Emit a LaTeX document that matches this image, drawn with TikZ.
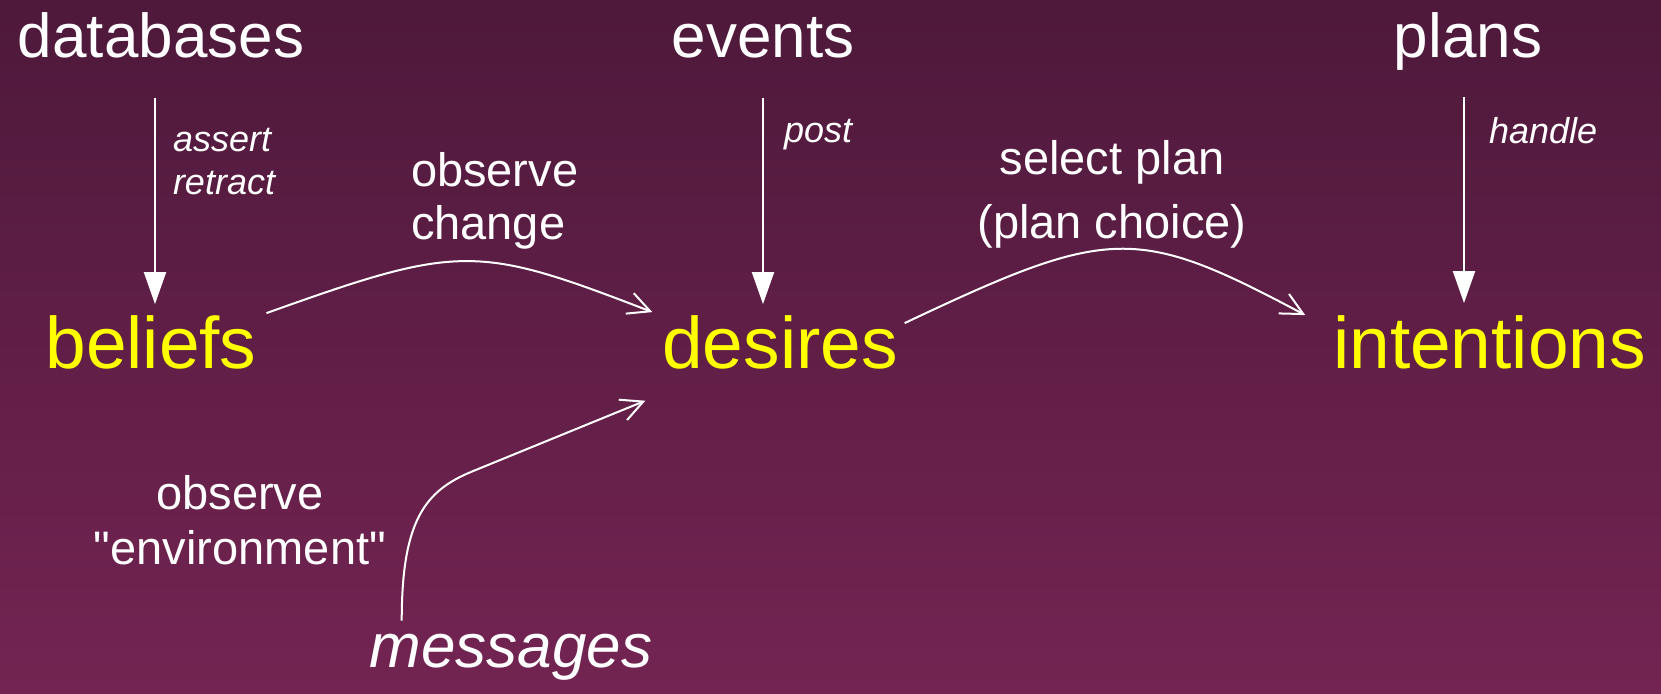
\documentclass[tikz,border=0pt]{standalone}
\usepackage{fontspec}
\setmainfont{Liberation Sans}
\usetikzlibrary{arrows.meta}
\definecolor{bgtop}{RGB}{78,25,59}
\definecolor{bgbot}{RGB}{115,36,82}
\definecolor{conceptcol}{RGB}{255,255,0}
\begin{document}
\begin{tikzpicture}[x=1pt,y=-1pt,
  every node/.style={inner sep=0pt, outer sep=0pt, text=white},
  source/.style={anchor=base, font=\fontsize{62}{74}\selectfont},
  concept/.style={anchor=base, text=conceptcol, font=\fontsize{73}{88}\selectfont},
  act/.style={font=\fontsize{36}{43}\selectfont\itshape},
  caption/.style={font=\fontsize{47}{53}\selectfont},
  down/.style={draw=white, line width=2pt, -{Triangle[length=32pt,width=22pt]}},
  flow/.style={draw=white, line width=2pt, -{Straight Barb[length=22pt,width=22pt]}}]

% background
\useasboundingbox (0,0) rectangle (1661,693);
\shade[top color=bgtop, bottom color=bgbot] (0,0) rectangle (1661,693);

% sources
\node[source] (databases) at (161,57) {databases};
\node[source] (events) at (763,57) {events};
\node[source] (plans) at (1468,57) {plans};
\node[source, font=\fontsize{62}{74}\selectfont\itshape] (messages) at (511,667) {messages};

% mental attitudes
\node[concept] (beliefs) at (151,368) {beliefs};
\node[concept] (desires) at (780,368) {desires};
\node[concept] (intentions) at (1489.5,368) {intentions};

% labels
\node[act, anchor=north west, align=left] (assert) at (173,128) {assert\\retract};
\node[act, anchor=base west] (post) at (784,142) {post};
\node[act, anchor=base west] (handle) at (1489,143) {handle};
\node[caption, anchor=north west, align=left] (change) at (411,152) {observe\\change};
\node[caption, anchor=north, align=center, font=\fontsize{47}{64}\selectfont] (choice) at (1112,140) {select plan\\(plan choice)};
\node[caption, anchor=north, align=center, font=\fontsize{47}{55}\selectfont] (environment) at (240,475) {observe\\\textquotedbl environment\textquotedbl};

% vertical feeds
\draw[down] ([xshift=-6pt,yshift=-40pt]databases.south) -- ([xshift=4pt,yshift=11pt]beliefs.north);
\draw[down] ([yshift=-40pt]events.south) -- ([xshift=-17pt,yshift=11pt]desires.north);
\draw[down] ([xshift=-4pt,yshift=-27pt]plans.south) -- ([xshift=-25.5pt,yshift=12pt]intentions.north);

% curved flows
\draw[flow] ([xshift=10pt,yshift=2pt]beliefs.north east)
  .. controls +(193,-69) and +(-176,-68) .. ([xshift=-10pt,yshift=3pt]desires.north west);
\draw[flow] ([xshift=7pt,yshift=-8pt]desires.north east)
  .. controls +(205,-97) and +(-169,-90) .. ([xshift=-28pt]intentions.north west);
\draw[flow] ([xshift=32pt,yshift=13pt]messages.north west)
  .. controls +(0,-101) and +(-46,19) .. ([xshift=102pt,yshift=162pt]messages.north west)
  -- ([xshift=-17pt,yshift=-32pt]desires.south west);
\end{tikzpicture}
\end{document}
